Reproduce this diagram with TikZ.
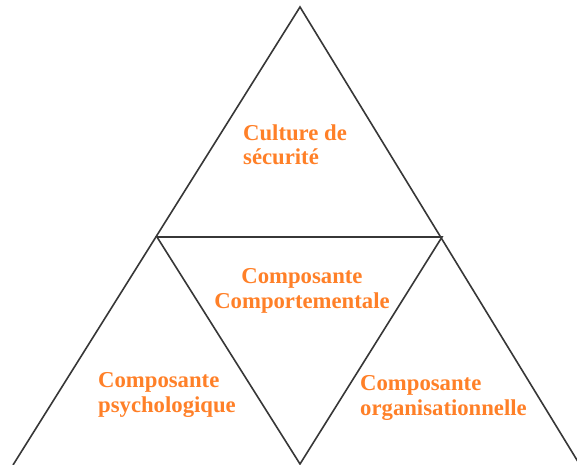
\documentclass[tikz,border=0pt]{standalone}
\usepackage{fontspec}
\setmainfont{Liberation Serif}
\definecolor{labelorange}{RGB}{255,128,40}
\definecolor{edgegray}{RGB}{55,55,55}
\begin{document}
\begin{tikzpicture}[x=1bp,y=-1bp,
  edge/.style={draw=edgegray,line width=1.6bp,line join=miter},
  baseedge/.style={draw=black!15,line width=0.8bp},
  lbl/.style={text=labelorange,font=\fontsize{22.8}{25}\selectfont\bfseries,
    align=left,inner sep=0pt}]
\useasboundingbox[fill=white] (0,0) rectangle (577,465);
% vertices of the large triangle and its midpoints
\coordinate (apex) at (300,7);
\coordinate (bl) at (13,465);
\coordinate (br) at (580,465);
\coordinate (ml) at (157,237);
\coordinate (mr) at (442,237);
\coordinate (mb) at (300,464);
% outer triangle and inner inverted triangle
\draw[baseedge] (bl) -- (br);
\draw[edge] (bl) -- (apex) -- (br);
\draw[edge] (ml) -- (mr) -- (mb) -- cycle;
% labels (anchored on the baseline of their last line)
\node[lbl,anchor=base west] (top) at (243,165) {Culture de\\sécurité};
\node[lbl,anchor=base,align=center] (mid) at (302,308) {Composante\\Comportementale};
\node[lbl,anchor=base west] (left) at (98,412) {Composante\\psychologique};
\node[lbl,anchor=base west] (right) at (360,415) {Composante\\organisationnelle};
\end{tikzpicture}
\end{document}
